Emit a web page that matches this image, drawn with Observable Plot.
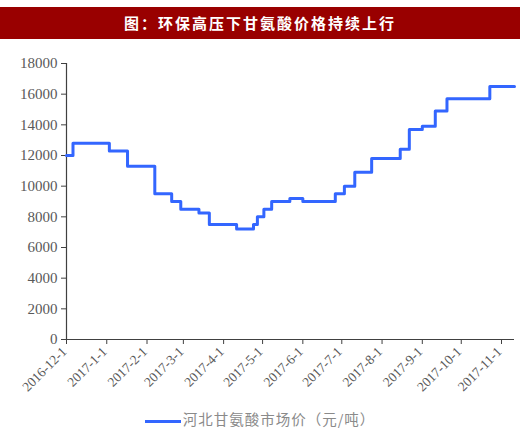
<!DOCTYPE html>
<html>
<head>
<meta charset="utf-8">
<script src="https://cdn.jsdelivr.net/npm/d3@7"></script>
<script src="https://cdn.jsdelivr.net/npm/@observablehq/plot@0.6"></script>
<style>
  html, body { margin: 0; padding: 0; background: #fff; width: 520px; height: 433px; overflow: hidden; }
  #title { margin-top: 7px; height: 32px; background: #990000; color: #fff; font-family: "Noto Sans CJK SC", sans-serif; font-weight: bold; font-size: 15px; line-height: 32px; text-align: center; letter-spacing: 2px; }
  #chart svg { display: block; }
  #legend { position: absolute; top: 408px; left: 0; width: 520px; text-align: center; font-family: "Noto Sans CJK SC", sans-serif; font-size: 14.5px; letter-spacing: 1px; color: #8a8a8a; }
  #legend span.sw { display: inline-block; width: 36px; height: 3px; background: #3366ff; vertical-align: middle; margin-right: 2px; }
</style>
</head>
<body>
<div id="title">图：环保高压下甘氨酸价格持续上行</div>
<div id="chart"></div>
<div id="legend"><span class="sw"></span><span id="legendText"></span></div>
<script>
const seriesName = "河北甘氨酸市场价（元/吨）";
const dates = ["2016-12-01","2016-12-06","2017-01-03","2017-01-17","2017-02-07","2017-02-20","2017-02-27","2017-03-13","2017-03-21","2017-04-11","2017-04-24","2017-04-27","2017-05-02","2017-05-08","2017-05-22","2017-06-01","2017-06-26","2017-07-03","2017-07-11","2017-07-24","2017-08-15","2017-08-22","2017-09-01","2017-09-11","2017-09-20","2017-10-23","2017-11-11"];
const prices = [12000,12800,12300,11300,9500,9000,8500,8250,7500,7200,7500,8000,8500,9000,9200,9000,9500,10000,10900,11800,12400,13700,13900,14900,15700,16500,16500];
const xTicks = ["2016-12-1","2017-1-1","2017-2-1","2017-3-1","2017-4-1","2017-5-1","2017-6-1","2017-7-1","2017-8-1","2017-9-1","2017-10-1","2017-11-1"];
const yTicks = [0,2000,4000,6000,8000,10000,12000,14000,16000,18000];

document.getElementById("legendText").textContent = seriesName;

const parse = s => { const [y,m,d] = s.split("-").map(Number); return new Date(Date.UTC(y, m-1, d)); };
const data = dates.map((d, i) => ({date: parse(d), price: prices[i]}));
const tickDates = xTicks.map(parse);
const xStart = parse("2016-12-01");
const serif = "'Liberation Serif', 'Times New Roman', serif";

const chart = Plot.plot({
  width: 520,
  height: 362,
  marginTop: 24,
  marginBottom: 62,
  marginLeft: 66,
  marginRight: 6,
  style: { fontFamily: serif, background: "#fff" },
  x: { type: "utc", domain: [xStart, parse("2017-11-11")] },
  y: { domain: [0, 18000] },
  marks: [
    Plot.axisY({ ticks: yTicks, tickSize: 5, tickFormat: () => "", label: null, stroke: "#404040" }),
    Plot.axisX({ ticks: tickDates, tickSize: 5, tickFormat: () => "", label: null, stroke: "#404040" }),
    Plot.text(yTicks, { x: xStart, y: d => d, text: d => String(d), dx: -9, textAnchor: "end", fontSize: 15, fontFamily: serif, fill: "#595959" }),
    Plot.text(tickDates, { x: d => d, y: 0, text: (d, i) => xTicks[i], rotate: -45, textAnchor: "end", dx: -2, dy: 10, fontSize: 13.5, fontFamily: serif, fill: "#595959" }),
    Plot.ruleY([0], { stroke: "#404040", strokeWidth: 1.2 }),
    Plot.ruleX([xStart], { stroke: "#404040", strokeWidth: 1.2 }),
    Plot.line(data, { x: "date", y: "price", curve: "step-after", stroke: "#3366ff", strokeWidth: 3 })
  ]
});
document.getElementById("chart").appendChild(chart);
</script>
</body>
</html>
